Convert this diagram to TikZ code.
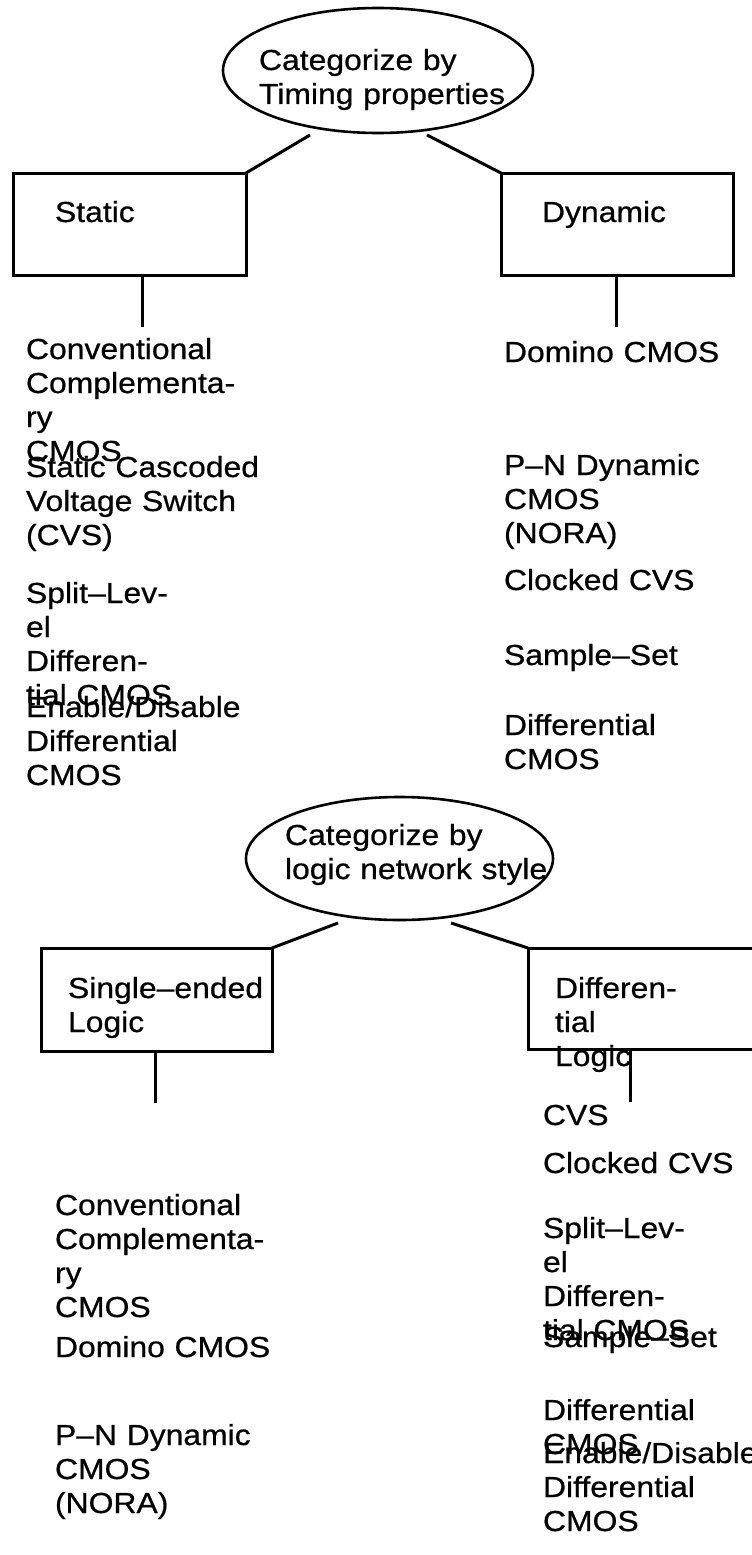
\documentclass[tikz,border=0pt]{standalone}
\usepackage{fontspec}
\setmainfont{Liberation Sans}[FakeStretch=1.1,FakeBold=0.6]
\usetikzlibrary{shapes.geometric}
\hyphenpenalty=10000
\exhyphenpenalty=10000
\begin{document}
\begin{tikzpicture}[x=1pt,y=-1pt,line width=3pt,
  lbl/.style={anchor=base west,inner sep=0pt,outer sep=0pt,text width=300pt,align=left,
    font=\fontsize{29}{34}\selectfont},
  boxn/.style={draw,rectangle,inner sep=0pt,outer sep=0pt},
  ell/.style={draw,ellipse,inner sep=0pt,outer sep=0pt,line width=2.6pt},
  conn/.style={line width=3pt}]
\useasboundingbox (0,0) rectangle (752,1555);
\fill[white] (0,0) rectangle (752,1555);
\begin{scope}
\clip (0,0) rectangle (752,1555);
% ---------- top part ----------
\node[ell,minimum width=310pt,minimum height=125pt] (cat1) at (378,70.5) {};
\node[lbl] (cat1t) at (259,70) {Categorize by\\Timing properties};
\node[boxn,minimum width=233pt,minimum height=102pt] (static) at (129.5,224) {};
\node[boxn,minimum width=232pt,minimum height=102pt] (dynamic) at (617,224) {};
\node[lbl] (statict) at (55,222) {Static};
\node[lbl] (dynamict) at (542,222) {Dynamic};
\coordinate (e1l) at (310,135);
\coordinate (e1r) at (427,135);
\draw[conn] (e1l) -- (static.north east);
\draw[conn] (e1r) -- (dynamic.north west);
\coordinate (sl) at (142,327);
\coordinate (dl) at (616,327);
\draw[conn] (static.south -| sl) -- (sl);
\draw[conn] (dynamic.south -| dl) -- (dl);
\node[lbl] (t1) at (26,359) {Conventional\\Complementa-\\ry\\CMOS};
\node[lbl] (t2) at (26,477) {Static Cascoded\\Voltage Switch\\(CVS)};
\node[lbl] (t3) at (26,603) {Split–Lev-\\el\\Differen-\\tial CMOS};
\node[lbl] (t4) at (26,717) {Enable/Disable\\Differential\\CMOS};
\node[lbl] (r1) at (504,362) {Domino CMOS};
\node[lbl] (r2) at (504,475) {P–N Dynamic\\CMOS\\(NORA)};
\node[lbl] (r3) at (504,590) {Clocked CVS};
\node[lbl] (r4) at (504,665) {Sample–Set};
\node[lbl] (r5) at (504,735) {Differential\\CMOS};
% ---------- bottom part ----------
\node[ell,minimum width=307pt,minimum height=123pt] (cat2) at (399.5,858.5) {};
\node[lbl] (cat2t) at (285,845) {Categorize by\\logic network style};
\node[boxn,minimum width=231pt,minimum height=103pt] (single) at (156.5,999.5) {};
\node[boxn,minimum width=232pt,minimum height=101pt] (diff) at (644,998.5) {};
\node[lbl] (singlet) at (68,998) {Single–ended\\Logic};
\node[lbl] (difft) at (555,998) {Differen-\\tial\\Logic};
\coordinate (e2l) at (338,923);
\coordinate (e2r) at (451,923);
\draw[conn] (e2l) -- (single.north east);
\draw[conn] (e2r) -- (diff.north west);
\coordinate (sel) at (155,1103);
\coordinate (del) at (630,1102);
\draw[conn] (single.south -| sel) -- (sel);
\draw[conn] (diff.south -| del) -- (del);
\node[lbl] (b1) at (55,1215) {Conventional\\Complementa-\\ry\\CMOS};
\node[lbl] (b2) at (55,1357) {Domino CMOS};
\node[lbl] (b3) at (55,1445) {P–N Dynamic\\CMOS\\(NORA)};
\node[lbl] (c1) at (543,1125) {CVS};
\node[lbl] (c2) at (543,1173) {Clocked CVS};
\node[lbl] (c3) at (543,1238) {Split–Lev-\\el\\Differen-\\tial CMOS};
\node[lbl] (c4) at (543,1347) {Sample–Set};
\node[lbl] (c5) at (543,1420) {Differential\\CMOS};
\node[lbl] (c6) at (543,1463) {Enable/Disable\\Differential\\CMOS};
\end{scope}
\end{tikzpicture}
\end{document}
